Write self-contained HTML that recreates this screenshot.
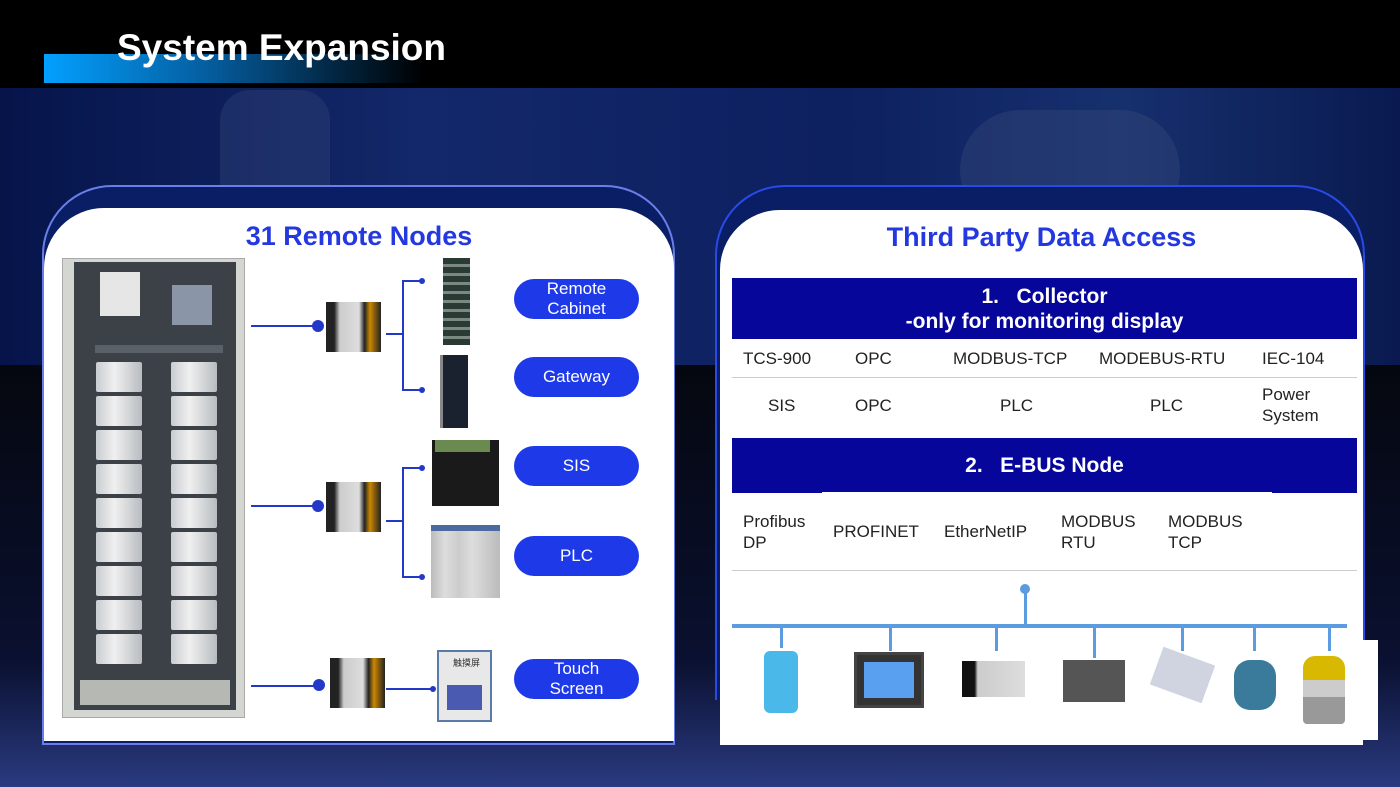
<!DOCTYPE html>
<html><head><meta charset="utf-8"><style>
*{margin:0;padding:0;box-sizing:border-box}
body{width:1400px;height:787px;overflow:hidden;position:relative;font-family:"Liberation Sans",sans-serif;background:#05081c}
.a{position:absolute}
.t{font-family:"Liberation Sans",sans-serif;color:#222;font-size:17px;position:absolute;line-height:21px}
.pill{position:absolute;background:#1e3ae8;color:#fff;border-radius:22px;width:125px;height:40px;text-align:center;font-size:17px;display:flex;align-items:center;justify-content:center;line-height:20px}
.hl{position:absolute;background:#2438c8}
.dot{position:absolute;width:12px;height:12px;border-radius:50%;background:#2438c8}
.sd{position:absolute;width:6px;height:6px;border-radius:50%;background:#2438c8}
.mod{position:absolute;width:46px;height:30px;background:linear-gradient(90deg,#c9ccd0,#f0f0f0 40%,#b8bcc0);border-radius:2px}
.node{position:absolute;width:55px;height:50px}
.bar{position:absolute;background:#5b9be0}
</style></head><body>
<div class="a" style="left:0;top:88px;width:1400px;height:280px;background:linear-gradient(90deg,#06144a,#13286a 30%,#0d2060 60%,#16306e 80%,#0a1a50)"></div>
<div class="a" style="left:220px;top:90px;width:110px;height:160px;background:#3a4a7a;border-radius:30px;opacity:.35"></div>
<div class="a" style="left:960px;top:110px;width:220px;height:120px;background:#44527e;border-radius:60px;opacity:.3"></div>
<div class="a" style="left:0;top:365px;width:1400px;height:422px;background:linear-gradient(180deg,#05070f,#0a1030 70%,#2a3a80)"></div>
<div class="a" style="left:0;top:0;width:1400px;height:88px;background:#000"></div>
<div class="a" style="left:44px;top:54px;width:380px;height:29px;background:linear-gradient(90deg,#03a0ff,#055a9a 45%,#000)"></div>
<div class="a" style="left:117px;top:26px;font-size:37px;font-weight:bold;color:#fff;line-height:44px">System Expansion</div>

<!-- left panel -->
<div class="a" style="left:42px;top:185px;width:633px;height:560px;border:2px solid #6a7ee8;border-radius:70px 70px 0 0;background:#0a1e66"></div>
<div class="a" style="left:44px;top:208px;width:630px;height:533px;background:#fff;border-radius:60px 60px 0 0"></div>
<div class="a" style="left:44px;top:218px;width:630px;text-align:center;font-size:27px;font-weight:bold;color:#2438e0;line-height:36px">31 Remote Nodes</div>
<!-- cabinet -->
<div class="a" style="left:62px;top:258px;width:183px;height:460px;background:#d4d6d2;border:1px solid #aaa"></div>
<div class="a" style="left:74px;top:262px;width:162px;height:448px;background:#3c4148"></div>
<div class="a" style="left:95px;top:345px;width:128px;height:8px;background:#5a6068"></div>
<div class="a" style="left:100px;top:272px;width:40px;height:44px;background:#e6e6e6"></div>
<div class="a" style="left:172px;top:285px;width:40px;height:40px;background:#8a96a8"></div>
<div class="a" style="left:80px;top:680px;width:150px;height:25px;background:#b6b8b4"></div>
<div id="mods"></div>
<!-- connectors -->
<div class="hl" style="left:251px;top:325px;width:68px;height:2px"></div><div class="dot" style="left:312px;top:320px"></div>
<div class="hl" style="left:251px;top:505px;width:68px;height:2px"></div><div class="dot" style="left:312px;top:500px"></div>
<div class="hl" style="left:251px;top:685px;width:68px;height:2px"></div><div class="dot" style="left:313px;top:679px"></div>
<div class="hl" style="left:386px;top:333px;width:16px;height:2px"></div>
<div class="hl" style="left:402px;top:280px;width:2px;height:110px"></div>
<div class="hl" style="left:402px;top:280px;width:20px;height:2px"></div><div class="sd" style="left:419px;top:278px"></div>
<div class="hl" style="left:402px;top:389px;width:20px;height:2px"></div><div class="sd" style="left:419px;top:387px"></div>
<div class="hl" style="left:386px;top:520px;width:16px;height:2px"></div>
<div class="hl" style="left:402px;top:467px;width:2px;height:110px"></div>
<div class="hl" style="left:402px;top:467px;width:20px;height:2px"></div><div class="sd" style="left:419px;top:465px"></div>
<div class="hl" style="left:402px;top:576px;width:20px;height:2px"></div><div class="sd" style="left:419px;top:574px"></div>
<div class="hl" style="left:386px;top:688px;width:46px;height:2px"></div><div class="sd" style="left:430px;top:686px"></div>
<!-- nodes -->
<div class="node" style="left:326px;top:302px;background:linear-gradient(90deg,#222 15%,#ccc 25%,#ddd 60%,#222 70%,#c80 80%,#222)"></div>
<div class="node" style="left:326px;top:482px;background:linear-gradient(90deg,#222 15%,#ccc 25%,#ddd 60%,#222 70%,#c80 80%,#222)"></div>
<div class="node" style="left:330px;top:658px;background:linear-gradient(90deg,#222 15%,#ccc 25%,#ddd 60%,#222 70%,#c80 80%,#222)"></div>
<!-- devices -->
<div class="a" style="left:443px;top:258px;width:27px;height:87px;background:repeating-linear-gradient(180deg,#2a3a34 0 6px,#7a8a80 6px 9px)"></div>
<div class="a" style="left:440px;top:355px;width:28px;height:73px;background:#1a2230;border-left:3px solid #888"></div>
<div class="a" style="left:432px;top:440px;width:67px;height:66px;background:#1a1a1a"></div>
<div class="a" style="left:435px;top:440px;width:55px;height:12px;background:#6a8a50"></div>
<div class="a" style="left:431px;top:525px;width:69px;height:73px;background:linear-gradient(90deg,#bbb,#ddd 20%,#ccc 40%,#ddd 60%,#ccc 80%,#bbb);border-top:6px solid #4a6aa0"></div>
<div class="a" style="left:437px;top:650px;width:55px;height:72px;background:#e8e8e8;border:2px solid #5a7aa8"></div>
<div class="a" style="left:447px;top:685px;width:35px;height:25px;background:#4a5ab0"></div>
<div class="a" style="left:453px;top:656px;font-size:9px;color:#333;font-family:'Liberation Sans','Noto Sans CJK SC',sans-serif">触摸屏</div>
<div class="pill" style="left:514px;top:279px">Remote<br>Cabinet</div>
<div class="pill" style="left:514px;top:357px">Gateway</div>
<div class="pill" style="left:514px;top:446px">SIS</div>
<div class="pill" style="left:514px;top:536px">PLC</div>
<div class="pill" style="left:514px;top:659px">Touch<br>Screen</div>

<!-- right panel -->
<div class="a" style="left:715px;top:185px;width:650px;height:515px;border:2px solid #2a4ae8;border-radius:70px 70px 0 0;background:#0a1e66;border-bottom:none"></div>
<div class="a" style="left:720px;top:210px;width:643px;height:535px;background:#fff;border-radius:60px 60px 0 0"></div>
<div class="a" style="left:720px;top:220px;width:643px;text-align:center;font-size:27px;font-weight:bold;color:#2438e0;line-height:34px">Third Party Data Access</div>
<div class="a" style="left:732px;top:278px;width:625px;height:61px;background:#06069a;color:#fff;text-align:center;font-size:21px;font-weight:bold;line-height:25px;padding-top:6px">1.&nbsp;&nbsp;&nbsp;Collector<br>-only for monitoring display</div>
<div class="t" style="left:743px;top:348px">TCS-900</div>
<div class="t" style="left:855px;top:348px">OPC</div>
<div class="t" style="left:953px;top:348px">MODBUS-TCP</div>
<div class="t" style="left:1099px;top:348px">MODEBUS-RTU</div>
<div class="t" style="left:1262px;top:348px">IEC-104</div>
<div class="a" style="left:732px;top:377px;width:625px;height:1px;background:#ccc"></div>
<div class="t" style="left:768px;top:395px">SIS</div>
<div class="t" style="left:855px;top:395px">OPC</div>
<div class="t" style="left:1000px;top:395px">PLC</div>
<div class="t" style="left:1150px;top:395px">PLC</div>
<div class="t" style="left:1262px;top:384px">Power<br>System</div>
<div class="a" style="left:732px;top:438px;width:625px;height:55px;background:#06069a;color:#fff;text-align:center;font-size:21px;font-weight:bold;line-height:55px">2.&nbsp;&nbsp;&nbsp;E-BUS Node</div>
<div class="a" style="left:822px;top:492px;width:450px;height:2px;background:#fff"></div>
<div class="t" style="left:743px;top:511px">Profibus<br>DP</div>
<div class="t" style="left:833px;top:521px">PROFINET</div>
<div class="t" style="left:944px;top:521px">EtherNetIP</div>
<div class="t" style="left:1061px;top:511px">MODBUS<br>RTU</div>
<div class="t" style="left:1168px;top:511px">MODBUS<br>TCP</div>
<div class="a" style="left:732px;top:570px;width:625px;height:1px;background:#ccc"></div>
<div class="a" style="left:1020px;top:584px;width:10px;height:10px;border-radius:50%;background:#5b9be0"></div>
<div class="bar" style="left:1024px;top:590px;width:3px;height:36px"></div>
<div class="bar" style="left:732px;top:624px;width:615px;height:4px"></div>
<div class="bar" style="left:780px;top:626px;width:3px;height:22px"></div>
<div class="bar" style="left:889px;top:626px;width:3px;height:25px"></div>
<div class="bar" style="left:995px;top:626px;width:3px;height:25px"></div>
<div class="bar" style="left:1093px;top:626px;width:3px;height:32px"></div>
<div class="bar" style="left:1181px;top:626px;width:3px;height:25px"></div>
<div class="bar" style="left:1253px;top:626px;width:3px;height:25px"></div>
<div class="bar" style="left:1328px;top:626px;width:3px;height:25px"></div>
<div class="a" style="left:1363px;top:640px;width:15px;height:100px;background:#fff"></div>
<div class="a" style="left:764px;top:651px;width:34px;height:62px;background:#4ab8e8;border-radius:6px"></div>
<div class="a" style="left:854px;top:652px;width:70px;height:56px;background:#333;border:3px solid #444"></div>
<div class="a" style="left:864px;top:662px;width:50px;height:36px;background:#5aa0f0"></div>
<div class="a" style="left:962px;top:661px;width:63px;height:36px;background:linear-gradient(90deg,#111 20%,#ccc 25%,#ddd)"></div>
<div class="a" style="left:1063px;top:660px;width:62px;height:42px;background:#555"></div>
<div class="a" style="left:1155px;top:655px;width:55px;height:40px;background:#d0d4e0;transform:rotate(20deg)"></div>
<div class="a" style="left:1234px;top:660px;width:42px;height:50px;background:#3a7a9a;border-radius:16px"></div>
<div class="a" style="left:1303px;top:656px;width:42px;height:68px;background:linear-gradient(180deg,#d8b800 0 35%,#ccc 35% 60%,#999 60%);border-radius:12px 12px 4px 4px"></div>
<script>
var h='';for(var c=0;c<2;c++)for(var r=0;r<9;r++){h+='<div class="mod" style="left:'+(96+c*75)+'px;top:'+(362+r*34)+'px"></div>';}
document.getElementById('mods').innerHTML=h;
</script>
</body></html>
